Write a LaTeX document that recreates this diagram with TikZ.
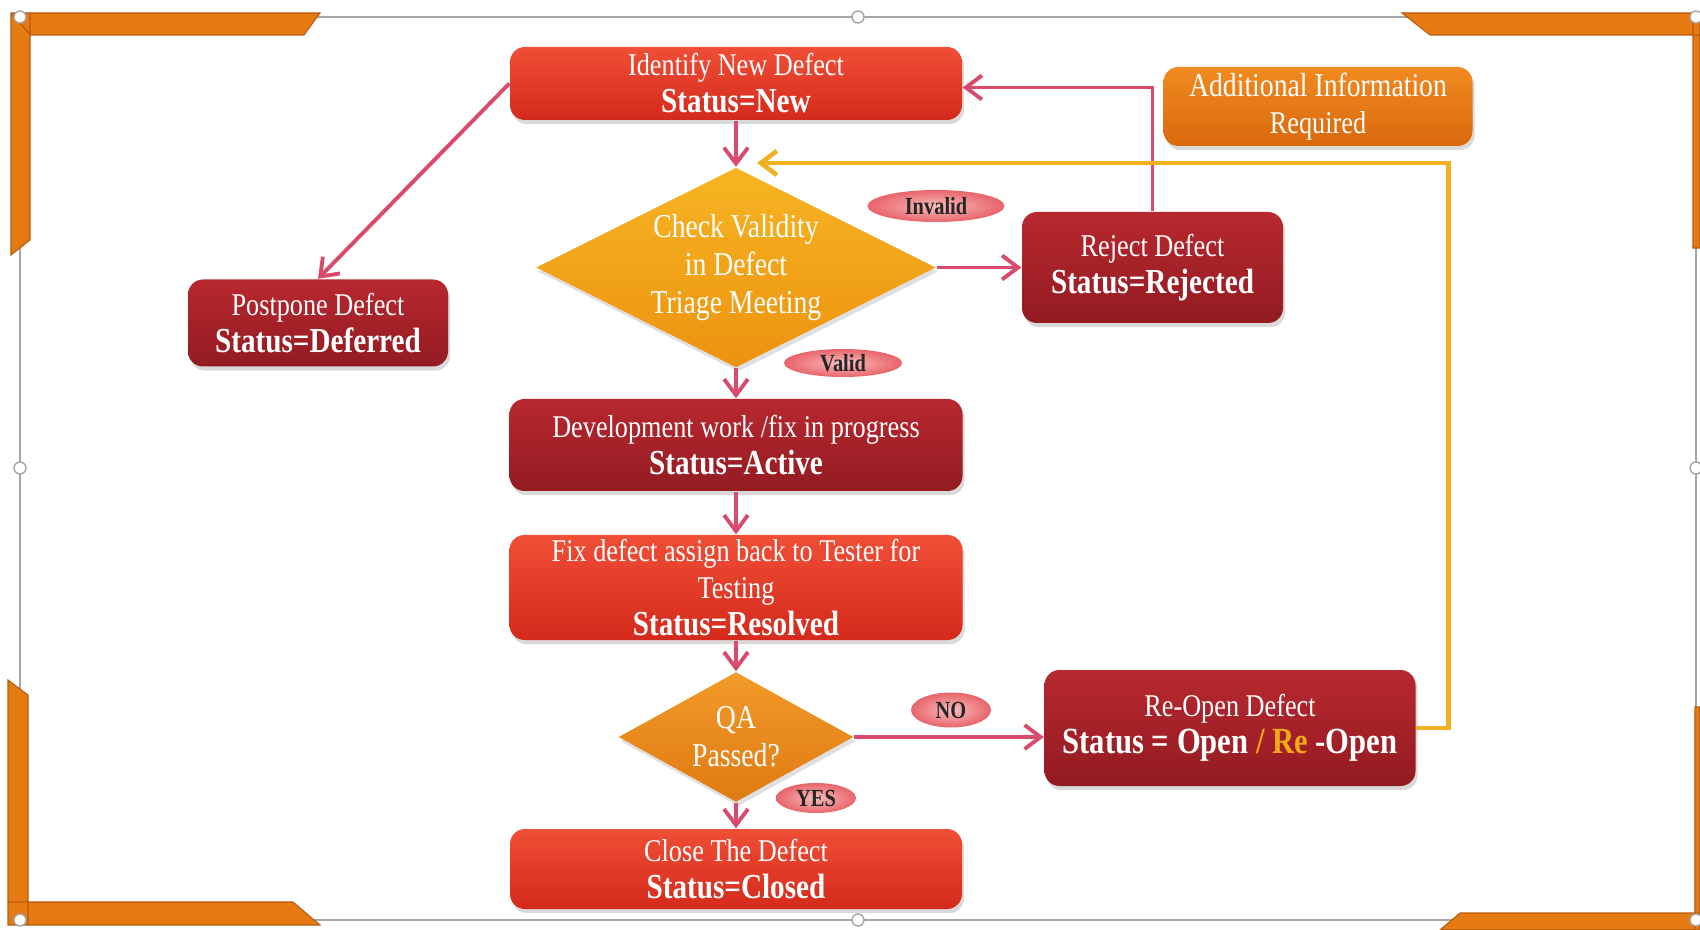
\documentclass[tikz,border=0pt]{standalone}
\usepackage{fontspec}
\setmainfont{Liberation Serif}[FakeStretch = 0.83]
\usetikzlibrary{shapes.geometric, arrows.meta, shadows}

\definecolor{redtop}{HTML}{F04E36}
\definecolor{redbot}{HTML}{D42A1C}
\definecolor{darktop}{HTML}{B8282F}
\definecolor{darkbot}{HTML}{931B22}
\definecolor{infotop}{HTML}{F18A20}
\definecolor{infobot}{HTML}{D9680C}
\definecolor{goldtop}{HTML}{F7B523}
\definecolor{goldbot}{HTML}{EC920F}
\definecolor{qatop}{HTML}{F29A2A}
\definecolor{qabot}{HTML}{DF7A12}
\definecolor{tagin}{HTML}{F9BDBD}
\definecolor{tagout}{HTML}{E8646A}
\definecolor{flow}{HTML}{DA4B6B}
\definecolor{loopback}{HTML}{F0B020}
\definecolor{framegray}{HTML}{A6A6A6}
\definecolor{bracket}{HTML}{E57A12}
\definecolor{bracketedge}{HTML}{B65A0C}
\definecolor{reword}{HTML}{F2A818}

\newcommand{\statusline}[1]{{\fontsize{10}{10.5}\selectfont\bfseries #1}}

\begin{document}
\begin{tikzpicture}[> = {Straight Barb[length = 1.6mm, width = 2.4mm]},
	box/.style = {rounded corners = 1.5mm, align = center, text = white,
		inner xsep = 2pt, inner ysep = 0pt, font = \fontsize{9}{10.5}\selectfont,
		drop shadow = {opacity = 0.3, shadow xshift = 0.6pt, shadow yshift = -1.2pt}},
	redbox/.style = {box, top color = redtop, bottom color = redbot},
	darkbox/.style = {box, top color = darktop, bottom color = darkbot},
	infobox/.style = {box, top color = infotop, bottom color = infobot},
	decision/.style = {diamond, aspect = 2, inner sep = 0pt, align = center, text = white,
		font = \fontsize{9.5}{10.8}\selectfont,
		drop shadow = {opacity = 0.25, shadow xshift = 0.6pt, shadow yshift = -1.2pt}},
	tag/.style = {ellipse, inner color = tagin, outer color = tagout, inner sep = 0pt,
		font = \fontsize{7}{8}\selectfont\bfseries, text = black!85},
	flowline/.style = {->, draw = flow, line width = 1.1pt}]

	\useasboundingbox (0, 0) rectangle (17, -9.3);

	% Frame and corner brackets

	\draw [framegray, line width = 0.6pt] (0.20, -0.17) rectangle (16.96, -9.20);
	\filldraw [fill = bracket, draw = bracketedge, line width = 0.3pt]
		(0.12, -0.13) -- (3.20, -0.13) -- (3.04, -0.35) -- (0.30, -0.35) -- cycle
		(0.11, -0.13) -- (0.30, -0.13) -- (0.30, -2.40) -- (0.11, -2.55) -- cycle
		(0.08, -6.80) -- (0.28, -6.95) -- (0.28, -9.25) -- (0.08, -9.25) -- cycle
		(0.08, -9.02) -- (2.93, -9.02) -- (3.20, -9.25) -- (0.08, -9.25) -- cycle
		(14.02, -0.13) -- (17.00, -0.13) -- (17.00, -0.35) -- (14.30, -0.35) -- cycle
		(16.93, -0.13) -- (17.00, -0.13) -- (17.00, -2.48) -- (16.93, -2.48) -- cycle
		(14.60, -9.13) -- (17.00, -9.13) -- (17.00, -9.30) -- (14.40, -9.30) -- cycle
		(16.95, -7.07) -- (17.00, -7.07) -- (17.00, -9.30) -- (16.95, -9.30) -- cycle;
	\foreach \hx/\hy in {0.20/-0.17, 8.58/-0.17, 16.96/-0.17, 0.20/-4.68,
		16.96/-4.68, 0.20/-9.20, 8.58/-9.20, 16.96/-9.20}
		\filldraw [fill = white, draw = framegray, line width = 0.4pt] (\hx, \hy) circle (0.06);

	% Steps

	\node [redbox, minimum width = 4.52cm, minimum height = 0.73cm] (newdef) at (7.36, -0.835)
		{Identify New Defect\\\statusline{Status=New}};
	\node [infobox, minimum width = 3.09cm, minimum height = 0.79cm] (addinfo) at (13.18, -1.065)
		{\fontsize{9.5}{10.8}\selectfont Additional Information\\Required};
	\node [decision, top color = goldtop, bottom color = goldbot,
		minimum width = 4.0cm, minimum height = 2.0cm] (check) at (7.36, -2.675)
		{Check Validity\\in Defect\\Triage Meeting};
	\node [darkbox, minimum width = 2.61cm, minimum height = 1.11cm] (reject) at (11.525, -2.675)
		{Reject Defect\\\statusline{Status=Rejected}};
	\node [darkbox, minimum width = 2.60cm, minimum height = 0.87cm] (postpone) at (3.18, -3.23)
		{Postpone Defect\\\statusline{Status=Deferred}};
	\node [darkbox, minimum width = 4.53cm, minimum height = 0.92cm] (dev) at (7.36, -4.45)
		{Development work /fix in progress\\\statusline{Status=Active}};
	\node [redbox, minimum width = 4.53cm, minimum height = 1.05cm] (fix) at (7.36, -5.875)
		{Fix defect assign back to Tester for\\Testing\\\statusline{Status=Resolved}};
	\node [decision, top color = qatop, bottom color = qabot, aspect = 1.8,
		minimum width = 2.35cm, minimum height = 1.30cm] (qa) at (7.36, -7.37)
		{QA\\Passed?};
	\node [darkbox, minimum width = 3.71cm, minimum height = 1.16cm] (reopen) at (12.30, -7.28)
		{Re-Open Defect\\{\fontsize{10.5}{10.5}\selectfont\bfseries Status = Open {\color{reword}/ Re} -Open}};
	\node [redbox, minimum width = 4.52cm, minimum height = 0.80cm] (close) at (7.36, -8.69)
		{Close The Defect\\\statusline{Status=Closed}};

	% Answer tags

	\node [tag, minimum width = 1.37cm, minimum height = 0.32cm] (invalid) at (9.36, -2.06) {Invalid};
	\node [tag, minimum width = 1.18cm, minimum height = 0.28cm] (valid) at (8.43, -3.63) {Valid};
	\node [tag, minimum width = 0.80cm, minimum height = 0.35cm] (no) at (9.51, -7.10) {NO};
	\node [tag, minimum width = 0.80cm, minimum height = 0.30cm] (yes) at (8.16, -7.98) {YES};

	% Connectors

	\coordinate (back) at (7.57, -1.63);
	\draw [flowline] (newdef.south) -- (check.north);
	\draw [flowline] (newdef.west) -- (postpone.north);
	\draw [flowline] (check.east) -- (reject.west);
	\draw [flowline] (reject.north) |- ([yshift = -0.04cm] newdef.east);
	\draw [flowline] (check.south) -- (dev.north);
	\draw [flowline] (dev.south) -- (fix.north);
	\draw [flowline] (fix.south) -- (qa.north);
	\draw [flowline] (qa.east) -- (reopen.west |- qa.east);
	\draw [flowline] (qa.south) -- (close.north);
	\draw [->, draw = loopback, line width = 1.3pt] (reopen.east) -- ++(0.32, 0) |- (back);

\end{tikzpicture}
\end{document}
